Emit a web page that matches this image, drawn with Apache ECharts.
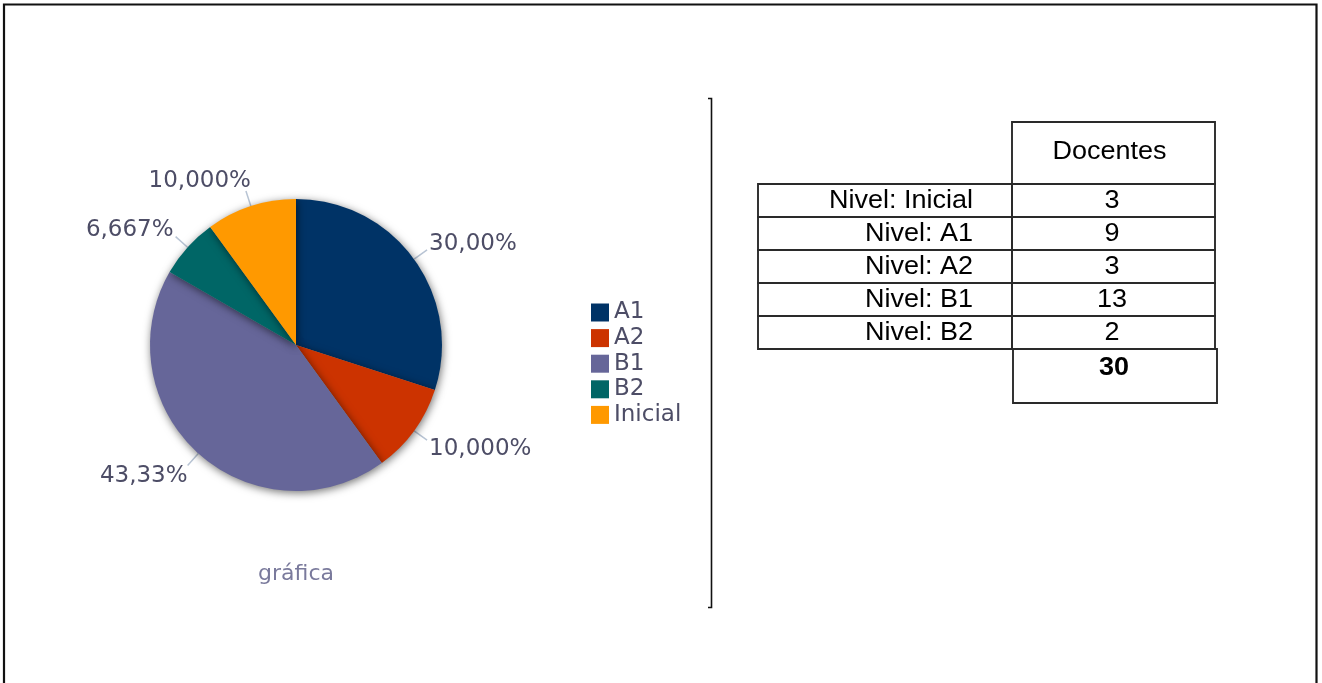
<!DOCTYPE html>
<html>
<head>
<meta charset="utf-8">
<script src="https://cdn.jsdelivr.net/npm/echarts@6/dist/echarts.min.js"></script>
<style>
html,body{margin:0;padding:0;background:#fff;}
#chart{width:1322px;height:683px;}
</style>
</head>
<body>
<div id="chart"></div>
<script>
// ---- data ----
const categories = ['A1', 'A2', 'B1', 'B2', 'Inicial'];
const values = [9, 3, 13, 2, 3];
const pctLabels = ['30,00%', '10,000%', '43,33%', '6,667%', '10,000%'];
const colors = ['#003366', '#cc3300', '#666699', '#006666', '#ff9900'];
const tableHeader = 'Docentes';
const tableRows = ['Nivel: Inicial', 'Nivel: A1', 'Nivel: A2', 'Nivel: B1', 'Nivel: B2'];
const tableValues = [3, 9, 3, 13, 2];
const tableTotal = 30;
const chartTitle = 'gráfica';

const chart = echarts.init(document.getElementById('chart'), null, {renderer: 'canvas'});

// mid angles of slices (clockwise from 12 o'clock), used to push labels outward
const total = values.reduce((a, b) => a + b, 0);
const midAngles = [];
{ let acc = 0; values.forEach(v => { midAngles.push((acc + v / 2) / total * 2 * Math.PI); acc += v; }); }

// table layout
const tX0 = 758, tX1 = 1012, tX2 = 1215;
const hdrTop = 122, rowTop = 184, rowH = 33;
const tableFont = '25px "Liberation Sans", Arial, sans-serif';
const sx = 1.08;
const g = [];
g.push({type: 'rect', shape: {x: 4, y: 4.5, width: 1312.5, height: 700}, style: {fill: 'none', stroke: '#111', lineWidth: 2.2}, silent: true});
g.push({type: 'polyline', shape: {points: [[708, 98.5], [711.5, 98.5], [711.5, 607.5], [708, 607.5]]}, style: {fill: 'none', stroke: '#111', lineWidth: 1.6}, silent: true});
const lineStyle = {fill: 'none', stroke: '#2a2a2a', lineWidth: 1.9};
g.push({type: 'rect', shape: {x: tX1, y: hdrTop, width: tX2 - tX1, height: rowTop - hdrTop}, style: lineStyle});
g.push({type: 'text', x: (tX1 + tX2) / 2 - 4, y: 152, scaleX: sx, style: {text: tableHeader, font: tableFont, fill: '#000', align: 'center', verticalAlign: 'middle'}});
tableRows.forEach((r, i) => {
  const y = rowTop + i * rowH;
  g.push({type: 'rect', shape: {x: tX0, y: y, width: tX1 - tX0, height: rowH}, style: lineStyle});
  g.push({type: 'rect', shape: {x: tX1, y: y, width: tX2 - tX1, height: rowH}, style: lineStyle});
  g.push({type: 'text', x: 973, y: y + rowH / 2 + 1, scaleX: sx, style: {text: r, font: tableFont, fill: '#000', align: 'right', verticalAlign: 'middle'}});
  g.push({type: 'text', x: 1112, y: y + rowH / 2 + 1, scaleX: sx, style: {text: String(tableValues[i]), font: tableFont, fill: '#000', align: 'center', verticalAlign: 'middle'}});
});
const totTop = rowTop + tableRows.length * rowH;
g.push({type: 'rect', shape: {x: tX1 + 1, y: totTop, width: tX2 - tX1 + 1, height: 54}, style: lineStyle});
g.push({type: 'text', x: 1114, y: totTop + 19, scaleX: sx, style: {text: String(tableTotal), font: 'bold 25px "Liberation Sans", Arial, sans-serif', fill: '#000', align: 'center', verticalAlign: 'middle'}});

const option = {
  backgroundColor: '#fff',
  animation: false,
  color: colors,
  title: {
    text: chartTitle,
    left: 296, top: 563, textAlign: 'center', padding: 0,
    textStyle: {fontFamily: 'DejaVu Sans', fontSize: 22, fontWeight: 'normal', color: '#7a7a9c'}
  },
  legend: {
    orient: 'vertical',
    left: 591, top: 301, padding: 0,
    itemWidth: 18, itemHeight: 18, itemGap: 2.6,
    icon: 'rect',
    textStyle: {fontFamily: 'DejaVu Sans', fontSize: 23, color: '#4d4d66'},
    data: categories
  },
  graphic: g,
  series: [{
    type: 'pie',
    center: [296, 345],
    radius: 146,
    startAngle: 90,
    clockwise: true,
    itemStyle: {shadowBlur: 8, shadowColor: 'rgba(0,0,0,0.55)', shadowOffsetX: 1, shadowOffsetY: 2},
    label: {
      show: true,
      formatter: p => pctLabels[p.dataIndex],
      fontFamily: 'DejaVu Sans', fontSize: 23, color: '#4d4d66',
      distanceToLabelLine: 2
    },
    labelLayout: function (params) {
      const a = midAngles[params.dataIndex];
      const c = Math.cos(a), s = Math.sin(a);
      const dy = c > 0 ? -10 * c : -10 * c + 3;
      const dx = Math.abs(s) < 0.4 ? 7 : (s < 0 && c < 0 ? 2 : 0);
      return {dx: dx, dy: dy};
    },
    labelLine: {show: true, length: 16, length2: 0, lineStyle: {color: '#b8c4d4', width: 1.5}},
    emphasis: {disabled: true},
    data: categories.map((c, i) => ({name: c, value: values[i]}))
  }]
};
chart.setOption(option);
</script>
</body>
</html>
